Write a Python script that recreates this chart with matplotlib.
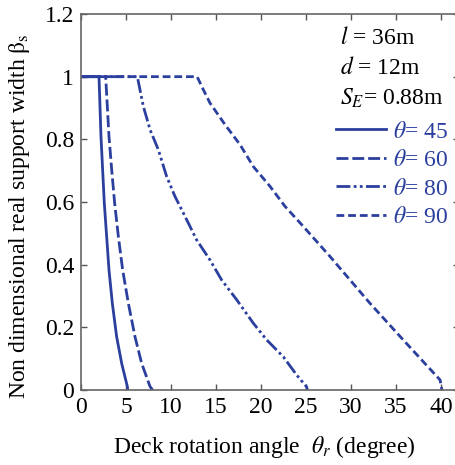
import matplotlib
matplotlib.use("Agg")
import matplotlib.pyplot as plt
from matplotlib.lines import Line2D

plt.rcParams['font.family'] = ['Liberation Serif', 'DejaVu Serif']
plt.rcParams['mathtext.fontset'] = 'stix'

# curves (rotation angle in degree, beta_s)
x45 = [0, 2.0, 2.22, 2.59, 2.85, 3.11, 3.48, 3.96, 4.52, 5.15, 5.2]
y45 = [1, 1, 0.809, 0.596, 0.49, 0.383, 0.277, 0.17, 0.085, 0.011, 0]
x60 = [0, 2.74, 3.11, 3.41, 3.74, 4.15, 4.63, 5.26, 6.0, 6.74, 7.67, 7.96]
y60 = [1, 1, 0.809, 0.703, 0.596, 0.49, 0.383, 0.277, 0.17, 0.085, 0.011, 0]
x80 = [0, 6.26, 6.93, 7.67, 8.59, 9.52, 10.44, 11.56, 12.85, 14.33, 15.63,
       17.3, 19.15, 20.63, 22.48, 23.96, 25.07, 25.15]
y80 = [1, 1, 0.905, 0.831, 0.767, 0.681, 0.618, 0.554, 0.479, 0.415, 0.351,
       0.288, 0.213, 0.16, 0.106, 0.048, 0.01, 0]
x90 = [0, 12.9, 13.6, 14.33, 16.0, 17.67, 19.15, 21.0, 22.67, 24.7, 27.67,
       32.1, 35.8, 39.9, 40.1]
y90 = [1, 1, 0.958, 0.916, 0.847, 0.783, 0.713, 0.65, 0.586, 0.522, 0.426,
       0.277, 0.16, 0.032, 0]

labels = [r'$\theta$= 45', r'$\theta$= 60', r'$\theta$= 80', r'$\theta$= 90']
xticks = [0, 5, 10, 15, 20, 25, 30, 35, 40]
yticks = [0, 0.2, 0.4, 0.6, 0.8, 1, 1.2]
yticklabels = ['0', '0.2', '0.4', '0.6', '0.8', '1', '1.2']

blue = '#2B3F9E'
fs = 17
lw = 2.0
styles = [dict(ls='-'), dict(dashes=(4.3, 1.4)),
          dict(dashes=(5, 1.2, 1, 1.2, 1, 1.2)), dict(dashes=(2.8, 1.4))]

fig = plt.figure(figsize=(4.56, 4.65), dpi=100)
ax = fig.add_axes([81/456, 75/465, 378/456, 376/465])

for xs, ys, st in zip([x45, x60, x80, x90], [y45, y60, y80, y90], styles):
    ax.plot(xs, ys, color=blue, lw=lw, **st)

ax.set_xlim(0, 42)
ax.set_ylim(0, 1.2)
ax.set_xticks(xticks)
ax.set_xticklabels([str(t) for t in xticks])
ax.set_yticks(yticks)
ax.set_yticklabels(yticklabels)
ax.tick_params(direction='in', length=4, width=1, color='#555555',
               top=True, right=True, labelsize=fs, pad=5)
for s in ax.spines.values():
    s.set_color('#666666')
    s.set_linewidth(1.2)

ax.set_xlabel(r'Deck rotation angle  $\theta_r$ (degree)', fontsize=fs)
ax.set_ylabel(r'Non dimensional real support width $\mathrm{\beta}_\mathrm{s}$',
              fontsize=fs)
ax.xaxis.set_label_coords(0.484, -0.118)
ax.yaxis.set_label_coords(-0.13, 0.463)

# parameter annotations
for t, yy in [(r'$l$ = 36m', 38), (r'$d$ = 12m', 68), (r'$S_E$= 0.88m', 98)]:
    fig.text(340/456, 1 - yy/465, t, fontsize=fs, ha='left', va='center')

handles = [Line2D([], [], color=blue, lw=lw, **st) for st in styles]
ax.legend(handles, labels, loc='upper right', bbox_to_anchor=(448/456, 1 - 121/465),
          bbox_transform=fig.transFigure, frameon=False, fontsize=fs, labelcolor=blue,
          handlelength=2.1, handletextpad=0.3, labelspacing=0.3, borderpad=0,
          borderaxespad=0)

fig.savefig('out.png', dpi=100)
